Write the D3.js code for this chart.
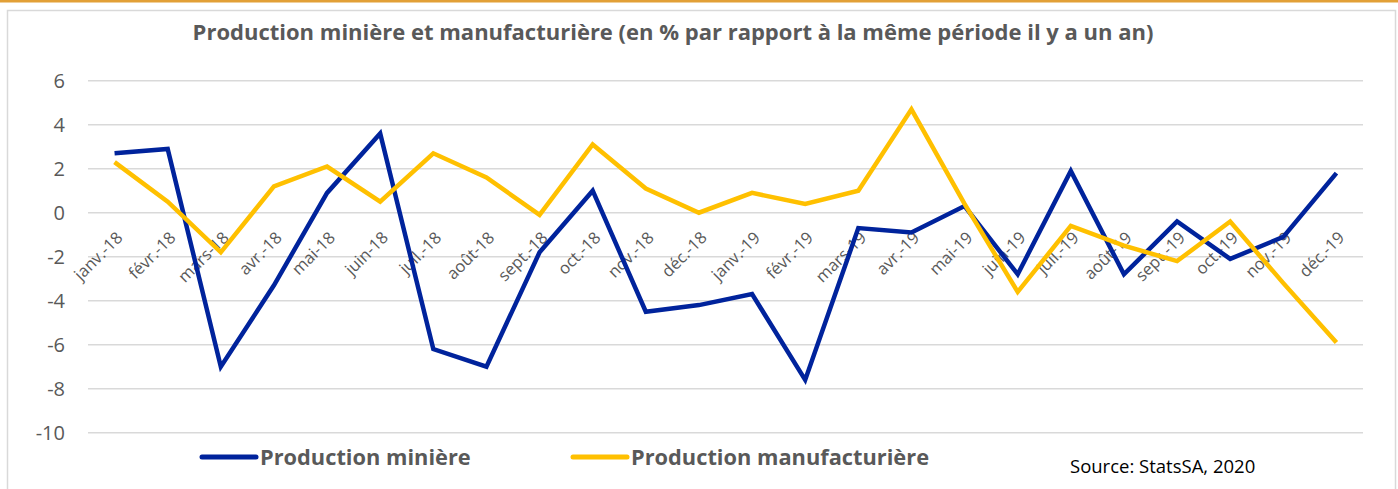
<!DOCTYPE html>
<html>
<head>
<meta charset="utf-8">
<style>
  body { margin: 0; background: #fff; }
  svg { display: block; font-family: "Open Sans", sans-serif; }
</style>
</head>
<body>
<div id="chart"></div>
<script src="https://d3js.org/d3.v7.min.js"></script>
<script>

// months on the x axis
let months = ["janv.-18", "févr.-18", "mars-18", "avr.-18", "mai-18", "juin-18",
  "juil.-18", "août-18", "sept.-18", "oct.-18", "nov.-18", "déc.-18",
  "janv.-19", "févr.-19", "mars-19", "avr.-19", "mai-19", "juin-19",
  "juil.-19", "août-19", "sept.-19", "oct.-19", "nov.-19", "déc.-19"];

// % change year on year
let miniere = [2.7, 2.9, -7.0, -3.3, 0.9, 3.6, -6.2, -7.0, -1.8, 1.0, -4.5, -4.2,
  -3.7, -7.6, -0.7, -0.9, 0.3, -2.8, 1.9, -2.8, -0.4, -2.1, -1.1, 1.8];
let manufacturiere = [2.3, 0.5, -1.8, 1.2, 2.1, 0.5, 2.7, 1.6, -0.1, 3.1, 1.1, 0.0,
  0.9, 0.4, 1.0, 4.7, 0.4, -3.6, -0.6, -1.5, -2.2, -0.4, -3.2, -5.9];

let yTicks = [6, 4, 2, 0, -2, -4, -6, -8, -10];

let seriesNames = ["Production minière", "Production manufacturière"];
let seriesColors = ["#00239C", "#FFC000"];

let width = 1398, height = 489;
let plot = {left: 88, right: 1363, top: 80.7, bottom: 432.7};

let svg = d3.select("#chart").append("svg")
  .attr("width", width)
  .attr("height", height);

// orange rule on top of the page + chart frame
svg.append("rect")
  .attr("x", 0).attr("y", 0).attr("width", width).attr("height", 2.5)
  .attr("fill", "#E2A037");
svg.append("rect")
  .attr("x", 7.5).attr("y", 10.5).attr("width", 1388).attr("height", 490)
  .attr("fill", "none")
  .attr("stroke", "#D9D9D9")
  .attr("stroke-width", 1.5);

let x = d3.scaleBand()
  .domain(months)
  .range([plot.left, plot.right]);

let y = d3.scaleLinear()
  .domain([-10, 6])
  .range([plot.bottom, plot.top]);

// gridlines
svg.append("g")
  .selectAll("line")
  .data(yTicks)
  .enter()
  .append("line")
    .attr("x1", plot.left)
    .attr("x2", plot.right)
    .attr("y1", d => y(d))
    .attr("y2", d => y(d))
    .attr("stroke", "#D9D9D9")
    .attr("stroke-width", 1.4);

// y axis labels
let yAxis = svg.append("g")
  .attr("transform", "translate(" + (plot.left - 23) + ",0)")
  .call(d3.axisLeft(y).tickValues(yTicks).tickSize(0).tickPadding(0).tickFormat(d => String(d)));
yAxis.select(".domain").remove();
yAxis.selectAll("text")
  .attr("fill", "#595959")
  .style("font-size", "20px")
  .style("font-family", "Open Sans, sans-serif");

// x axis labels, rotated, hanging under the zero line
let xAxis = svg.append("g")
  .attr("transform", "translate(0," + y(0) + ")")
  .call(d3.axisBottom(x).tickSize(0).tickPadding(0));
xAxis.select(".domain").remove();
xAxis.selectAll("text")
  .attr("fill", "#595959")
  .style("font-size", "16.5px")
  .style("font-family", "Open Sans, sans-serif")
  .attr("text-anchor", "end")
  .attr("dy", null)
  .attr("y", 0)
  .attr("transform", "translate(9,26) rotate(-45)");

// lines
let line = d3.line()
  .x((d, i) => x(months[i]) + x.bandwidth() / 2)
  .y(d => y(d));

[miniere, manufacturiere].forEach(function(values, k) {
  svg.append("path")
    .datum(values)
    .attr("d", line)
    .attr("fill", "none")
    .attr("stroke", seriesColors[k])
    .attr("stroke-width", 4.5)
    .attr("stroke-linejoin", "miter");
});

// title
svg.append("text")
  .attr("x", 673)
  .attr("y", 40)
  .attr("text-anchor", "middle")
  .attr("fill", "#595959")
  .style("font-size", "22px")
  .style("font-weight", "bold")
  .text("Production minière et manufacturière (en % par rapport à la même période il y a un an)");

// legend
let legendX = [200, 571];
let legend = svg.append("g")
  .selectAll("g")
  .data(seriesNames)
  .enter()
  .append("g")
    .attr("transform", (d, i) => "translate(" + legendX[i] + ",457)");
legend.append("line")
  .attr("x1", 2).attr("x2", 56)
  .attr("y1", 0).attr("y2", 0)
  .attr("stroke", (d, i) => seriesColors[i])
  .attr("stroke-width", 5)
  .attr("stroke-linecap", "round");
legend.append("text")
  .attr("x", 60)
  .attr("y", 8)
  .attr("fill", "#595959")
  .style("font-size", "21.8px")
  .style("font-weight", "bold")
  .text(d => d);

// source note
svg.append("text")
  .attr("x", 1070)
  .attr("y", 473)
  .attr("fill", "#000")
  .style("font-size", "18.5px")
  .text("Source: StatsSA, 2020");

</script>
</body>
</html>
